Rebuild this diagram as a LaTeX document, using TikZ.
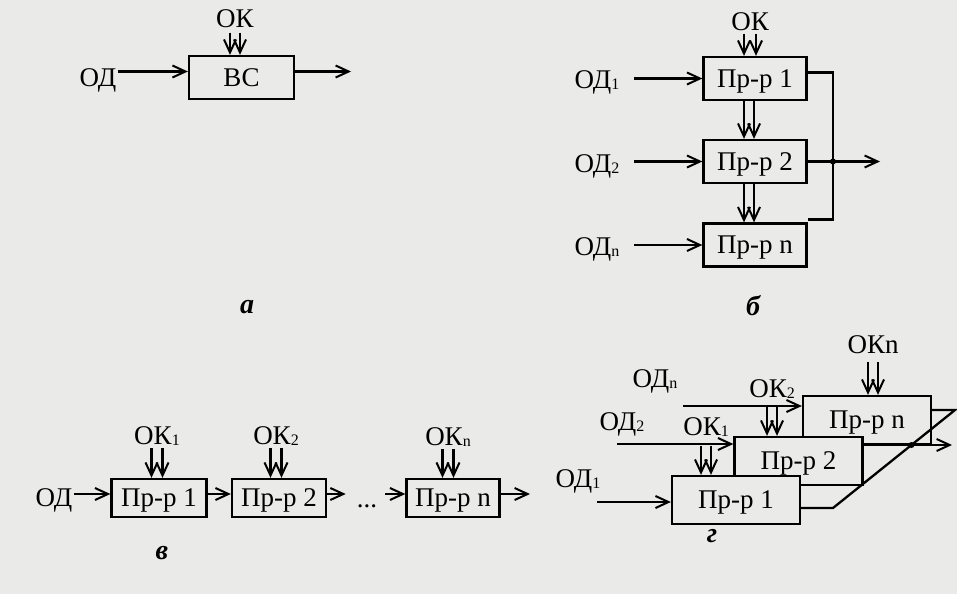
\documentclass[tikz,border=0pt]{standalone}
\usepackage{fontspec}
\setmainfont{Liberation Serif}
\usepackage{tikz}
\definecolor{paper}{RGB}{234,234,232}
\usetikzlibrary{arrows.meta, positioning, calc}
\newcommand{\ix}[1]{\raisebox{-1pt}{\fontsize{16}{16}\selectfont #1}}

\begin{document}
\begin{tikzpicture}[
    x=1pt, y=-1pt, line width=2.3pt,
    font=\fontsize{27}{32}\selectfont,
    >={Straight Barb[length=13pt, width=12pt, line width=2pt]},
    blk/.style={draw, fill=paper, inner sep=0pt, text depth=0pt,
                minimum width=#1, minimum height=43pt},
    lbl/.style={inner sep=1pt, text depth=0pt},
    tag/.style={anchor=base, font=\fontsize{28}{32}\selectfont\bfseries\itshape}
]
    \fill[paper] (0,0) rectangle (957,594);
    \path[use as bounding box] (0,0) rectangle (957,594);

    % Scheme a
    \node[lbl] (okA) at (235,18.5) {ОК};
    \node[blk=105pt] (bc) at (241.5,77.5) {ВС};
    \node[lbl] (odA) at (98,78) {ОД};
    \coordinate (endA) at (351,71.5);
    \draw[->] ([yshift=6pt]bc.west -| odA.east) -- ([yshift=6pt]bc.west);
    \draw[->] ([yshift=6pt]bc.east) -- (endA);
    \draw[->, shorten <=3pt] ([xshift=-5pt]okA.south) -- ([xshift=-5pt]okA.south |- bc.north);
    \draw[->, shorten <=3pt] ([xshift=5pt]okA.south) -- ([xshift=5pt]okA.south |- bc.north);
    \node[tag] (tagA) at (247,313) {а};

    % Scheme b
    \node[lbl] (okB) at (750,21.5) {ОК};
    \node[blk=103pt] (p1B) at (755,78.5) {Пр-р 1};
    \node[blk=103pt] (p2B) at (755,161.5) {Пр-р 2};
    \node[blk=103pt] (pnB) at (755,245) {Пр-р n};
    \node[lbl] (od1B) at (597,80) {ОД\ix{1}};
    \node[lbl] (od2B) at (597,164) {ОД\ix{2}};
    \node[lbl] (odnB) at (597,247) {ОД\ix{n}};
    \coordinate (busB) at (833,161.5);
    \coordinate (endB) at (880,161.5);
    \draw[->, shorten <=13pt] (od1B.east |- p1B.west) -- (p1B.west);
    \draw[->, shorten <=13pt] (od2B.east |- p2B.west) -- (p2B.west);
    \draw[->, shorten <=13pt] (odnB.east |- pnB.west) -- (pnB.west);
    \draw[->, shorten <=1pt] ([xshift=-6pt]okB.south) -- ([xshift=-6pt]okB.south |- p1B.north);
    \draw[->, shorten <=1pt] ([xshift=6pt]okB.south) -- ([xshift=6pt]okB.south |- p1B.north);
    \draw[->] ([xshift=-11pt]p1B.south) -- ([xshift=-11pt]p2B.north);
    \draw[->] ([xshift=-1pt]p1B.south) -- ([xshift=-1pt]p2B.north);
    \draw[->] ([xshift=-11pt]p2B.south) -- ([xshift=-11pt]pnB.north);
    \draw[->] ([xshift=-1pt]p2B.south) -- ([xshift=-1pt]pnB.north);
    \draw ([yshift=6pt]p1B.east) -| (busB) |- ([yshift=3pt]pnB.north east);
    \draw[->] (p2B.east) -- (busB) -- (endB);
    \fill (busB) circle (3pt);
    \node[tag] (tagB) at (753,315) {б};

    % Scheme v
    \node[blk=95pt, minimum height=38pt] (p1C) at (159,498) {Пр-р 1};
    \node[blk=94pt, minimum height=38pt] (p2C) at (279,498) {Пр-р 2};
    \node[blk=93pt, minimum height=38pt] (pnC) at (453,498) {Пр-р n};
    \node[lbl] (odC) at (54,497.5) {ОД};
    \node[lbl, anchor=base] (dots) at (367,507) {...};
    \node[lbl] (okC1) at (157,436) {ОК\ix{1}};
    \node[lbl] (okC2) at (276,436) {ОК\ix{2}};
    \node[lbl] (okCn) at (448,437) {ОК\ix{n}};
    \coordinate (endC) at (530,494);
    \draw[->] ([yshift=4pt]p1C.west -| odC.east) -- ([yshift=4pt]p1C.west);
    \draw[->] ([yshift=4pt]p1C.east) -- ([yshift=4pt]p2C.west);
    \draw[->, shorten >=9pt] ([yshift=4pt]p2C.east) -- ([yshift=4pt]p2C.east -| dots.west);
    \draw[->, shorten <=6pt] ([yshift=4pt]pnC.west -| dots.east) -- ([yshift=4pt]pnC.west);
    \draw[->] ([yshift=4pt]pnC.east) -- (endC);
    \draw[->, shorten <=1pt] ([xshift=-5.5pt]okC1.south) -- ([xshift=-5.5pt]okC1.south |- p1C.north);
    \draw[->, shorten <=1pt] ([xshift=5.5pt]okC1.south) -- ([xshift=5.5pt]okC1.south |- p1C.north);
    \draw[->, shorten <=1pt] ([xshift=-5.5pt]okC2.south) -- ([xshift=-5.5pt]okC2.south |- p2C.north);
    \draw[->, shorten <=1pt] ([xshift=5.5pt]okC2.south) -- ([xshift=5.5pt]okC2.south |- p2C.north);
    \draw[->, shorten <=1pt] ([xshift=-5.5pt]okCn.south) -- ([xshift=-5.5pt]okCn.south |- pnC.north);
    \draw[->, shorten <=1pt] ([xshift=5.5pt]okCn.south) -- ([xshift=5.5pt]okCn.south |- pnC.north);
    \node[tag] (tagC) at (162,559) {в};

    % Scheme g
    \node[blk=128pt, minimum height=48pt] (pnG) at (867,420) {Пр-р n};
    \node[blk=128pt, minimum height=48pt] (p2G) at (798.5,461) {Пр-р 2};
    \node[blk=128pt, minimum height=48pt] (p1G) at (736,500) {Пр-р 1};
    \node[lbl] (od1G) at (578,479) {ОД\ix{1}};
    \node[lbl] (od2G) at (622,421.5) {ОД\ix{2}};
    \node[lbl] (odnG) at (655,378.5) {ОД\ix{n}};
    \node[lbl] (okG1) at (706,426.5) {ОК\ix{1}};
    \node[lbl] (okG2) at (772,388.5) {ОК\ix{2}};
    \node[lbl] (okGn) at (873,345) {ОКn};
    \coordinate (g1s) at (597,502);
    \coordinate (g2s) at (617,444);
    \coordinate (gns) at (683,406);
    \coordinate (gtop) at (955,410);
    \coordinate (gbot) at (833,508);
    \coordinate (g2o) at ([yshift=16pt]p2G.east);
    \coordinate (gout) at (952,445);
    \draw[->] (g1s) -- (g1s -| p1G.west);
    \draw[->] (g2s) -- (g2s -| p2G.west);
    \draw[->] (gns) -- (gns -| pnG.west);
    \draw[->, shorten <=8pt] ([xshift=-5pt]okG1.south) -- ([xshift=-5pt]okG1.south |- p1G.north);
    \draw[->, shorten <=8pt] ([xshift=5pt]okG1.south) -- ([xshift=5pt]okG1.south |- p1G.north);
    \draw[->, shorten <=7pt] ([xshift=-5pt]okG2.south) -- ([xshift=-5pt]okG2.south |- p2G.north);
    \draw[->, shorten <=7pt] ([xshift=5pt]okG2.south) -- ([xshift=5pt]okG2.south |- p2G.north);
    \draw[->, shorten <=6pt] ([xshift=-5pt]okGn.south) -- ([xshift=-5pt]okGn.south |- pnG.north);
    \draw[->, shorten <=6pt] ([xshift=5pt]okGn.south) -- ([xshift=5pt]okGn.south |- pnG.north);
    \draw ([yshift=10pt]pnG.east) -- (gtop) -- (gbot) -- (gbot -| p1G.east);
    \draw[->] (g2o) -- (gout);
    \fill (intersection of gtop--gbot and g2o--gout) circle (3pt);
    \node[tag] (tagD) at (712,542) {г};
\end{tikzpicture}
\end{document}
